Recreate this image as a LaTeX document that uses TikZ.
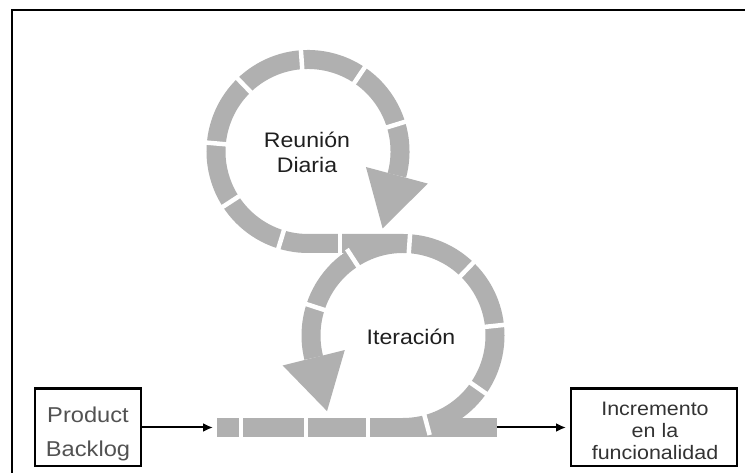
\documentclass[tikz,border=0pt]{standalone}
\usepackage{fontspec}
\setmainfont{Liberation Sans}
\usetikzlibrary{calc,arrows.meta}
\definecolor{loopgray}{RGB}{176,176,176}
\begin{document}
\begin{tikzpicture}[x=1pt,y=1pt,
  loop/.style={draw=loopgray,line width=19pt},
  gap/.style={draw=white,line width=4.5pt},
  head/.style={fill=loopgray},
  box/.style={draw=black,line width=2.4pt,minimum height=77.6pt,inner sep=0pt},
  lbl/.style={align=center,inner sep=0pt,xscale=1.1,transform shape},
  flow/.style={line width=2pt,-{Latex[length=10pt,width=9pt]}}
]
\useasboundingbox (0,0) rectangle (745,473);
\fill[white] (0,0) rectangle (745,473);
% outer frame (left and top edges)
\draw[line width=2pt] (12,0) -- (12,463) -- (745,463);

% centres of the two loops
\coordinate (U) at (308,321.5);
\coordinate (L) at (403,137.5);

% upper loop, connecting band and left half of the lower loop
\draw[loop] ($(U)+(-15:92)$) arc[start angle=-15,end angle=270,radius=92]
  -- (403,229.5) arc[start angle=90,end angle=194,radius=92];
% right half of the lower loop
\draw[loop] ($(L)+(-90:92)$) arc[start angle=-90,end angle=90,radius=92];
% straight bar along the bottom
\coordinate (barL) at (217,45.5);
\coordinate (barR) at (497,45.5);
\draw[loop] (barL) -- (barR);

% arrowheads of the loops
\coordinate (ua) at ($(U)+(-15:92)$);
\fill[head] ($(ua)+(-15:32)$) -- ($(ua)+(165:32)$) -- ($(ua)+(-105:55)$) -- cycle;
\coordinate (la) at ($(L)+(194:92)$);
\fill[head] ($(la)+(14:32)$) -- ($(la)+(194:32)$) -- ($(la)+(-76:55)$) -- cycle;

% white gaps that split the band into segments
\foreach \a in {94,56,17,134,175,213,253}
  \draw[gap] ($(U)+(\a:81)$) -- ($(U)+(\a:103)$);
\foreach \a in {86,46,6,-35,-75,123,162}
  \draw[gap] ($(L)+(\a:81)$) -- ($(L)+(\a:103)$);
\foreach \x in {241,306,368}
  \draw[gap] (\x,34) -- (\x,57);
\draw[gap] (340,218) -- (340,241);

% loop labels
\node[lbl,text=black!88,font=\fontsize{21}{25}\selectfont] (reu) at (307,321) {Reunión\\Diaria};
\node[lbl,text=black!88,font=\fontsize{21}{25}\selectfont] (ite) at (411,136) {Iteración};

% input and output boxes
\node[box,minimum width=105.6pt] (pb) at (88,45.5) {};
\node[lbl,text=black!68,font=\fontsize{21.5}{34}\selectfont] (pbt) at (88,39) {Product\\Backlog};
\node[box,minimum width=165.6pt] (inc) at (654,45.5) {};
\node[lbl,text=black!80,font=\fontsize{19.5}{22}\selectfont] (inct) at (655,42) {Incremento\\en la\\funcionalidad};

% connectors
\draw[flow,shorten >=4pt] (pb.east) -- (barL);
\draw[flow,shorten >=4pt] (barR) -- (inc.west);
\end{tikzpicture}
\end{document}
